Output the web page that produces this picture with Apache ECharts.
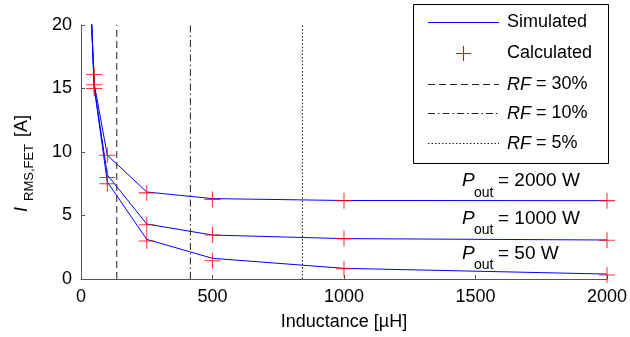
<!DOCTYPE html>
<html>
<head>
<meta charset="utf-8">
<script src="https://cdn.jsdelivr.net/npm/echarts@6/dist/echarts.min.js"></script>
<style>
  html, body { margin: 0; padding: 0; background: #ffffff; }
  #chart { width: 630px; height: 337px; }
</style>
</head>
<body>
<div id="chart"></div>
<script>
// Inductance values (µH)
const inductanceSim = [40, 50, 100, 250, 500, 1000, 2000];
const inductanceCalc = [50, 100, 250, 500, 1000, 2000];

// Simulated RMS FET current (A) per output power
const sim2000W = [20.6, 15.4, 9.75, 6.85, 6.33, 6.18, 6.17];
const sim1000W = [20.4, 15.2, 8.2, 4.33, 3.46, 3.18, 3.07];
const sim50W   = [20.2, 15.1, 7.65, 3.12, 1.63, 0.84, 0.39];

// Calculated RMS FET current (A) per output power
const calc2000W = [16.1, 9.75, 6.78, 6.27, 6.17, 6.17];
const calc1000W = [15.3, 8.0, 4.27, 3.46, 3.18, 3.05];
const calc50W   = [15.0, 7.5, 3.0, 1.44, 0.8, 0.31];

// Ripple factor boundaries
const rfLabels = ['30%', '10%', '5%'];
const rfInductance = [136, 416, 842];

const powerLabels = ['2000 W', '1000 W', '50 W'];

const FONT = '"Liberation Sans", Arial, Helvetica, sans-serif';
const Y_MAX = 20;

const zip = (xs, ys) => xs.map((x, i) => [x, ys[i]]);

// plus-shaped marker built from two thin bars
const PLUS = 'path://M-0.065,-1 L0.065,-1 L0.065,1 L-0.065,1 Z M-1,-0.065 L1,-0.065 L1,0.065 L-1,0.065 Z';

const simSets = [sim2000W, sim1000W, sim50W];
const calcSets = [calc2000W, calc1000W, calc50W];
const rfDash = [[7, 4], [7, 3, 1.5, 3], [1.5, 2]];

const series = [];
rfInductance.forEach((l, i) => {
  series.push({
    name: 'RF = ' + rfLabels[i],
    type: 'line',
    data: [[l, 0], [l, Y_MAX]],
    showSymbol: false,
    symbol: 'none',
    silent: true,
    z: 1,
    lineStyle: { color: '#222', width: 1, type: rfDash[i] }
  });
});
simSets.forEach((s) => {
  series.push({
    name: 'Simulated',
    type: 'line',
    data: zip(inductanceSim, s),
    symbol: 'none',
    z: 2,
    lineStyle: { color: '#0000ff', width: 1 }
  });
});
calcSets.forEach((s) => {
  series.push({
    name: 'Calculated',
    type: 'scatter',
    data: zip(inductanceCalc, s),
    symbol: PLUS,
    symbolSize: 16,
    z: 3,
    itemStyle: { color: '#ff0000' }
  });
});

// Plus outline as a polygon, centred on (cx, cy)
function plusPoints(cx, cy, r, t) {
  return [
    [cx - t, cy - r], [cx + t, cy - r], [cx + t, cy - t], [cx + r, cy - t],
    [cx + r, cy + t], [cx + t, cy + t], [cx + t, cy + r], [cx - t, cy + r],
    [cx - t, cy + t], [cx - r, cy + t], [cx - r, cy - t], [cx - t, cy - t]
  ];
}

// Legend box drawn as graphic elements
const legendX = 413.5, legendY = 4.5, legendW = 195, legendH = 159;
const rowY = [22.5, 53.5, 84.5, 113.5, 143.5];
const sampleX1 = 428, sampleX2 = 499, textX = 507;
const legendChildren = [
  { type: 'rect', shape: { x: legendX, y: legendY, width: legendW, height: legendH },
    style: { fill: '#fff', stroke: '#000', lineWidth: 1 } },
  { type: 'line', shape: { x1: sampleX1, y1: rowY[0], x2: sampleX2, y2: rowY[0] },
    style: { stroke: '#0000ff', lineWidth: 1 } },
  { type: 'text', x: textX, y: rowY[0], style: { text: 'Simulated', font: '18px ' + FONT, fill: '#000', verticalAlign: 'middle' } },
  { type: 'polygon', z: 10, shape: { points: plusPoints(463.5, rowY[1], 7.5, 0.55) },
    style: { fill: '#ff0000', stroke: null } },
  { type: 'text', x: textX, y: rowY[1], style: { text: 'Calculated', font: '18px ' + FONT, fill: '#000', verticalAlign: 'middle' } }
];
rfLabels.forEach((lab, i) => {
  const y = rowY[2 + i];
  legendChildren.push({ type: 'line', shape: { x1: sampleX1, y1: y, x2: sampleX2, y2: y },
    style: { stroke: '#222', lineWidth: 1, lineDash: rfDash[i] } });
  legendChildren.push({ type: 'text', x: textX, y: y, style: {
    text: '{i|RF}{n| = ' + lab + '}', verticalAlign: 'middle', fill: '#000',
    rich: { i: { fontFamily: FONT, fontSize: 18, fontStyle: 'italic', fill: '#000' },
            n: { fontFamily: FONT, fontSize: 18, fill: '#000' } } } });
});

// P_out annotations
const poutY = [181, 218.5, 253.5];
const poutChildren = [];
powerLabels.forEach((p, i) => {
  const y = poutY[i];
  poutChildren.push({ type: 'text', x: 462, y: y, style: { text: 'P', font: 'italic 19px ' + FONT, fill: '#000', verticalAlign: 'middle' } });
  poutChildren.push({ type: 'text', x: 474, y: y + 12, style: { text: 'out', font: '14px ' + FONT, fill: '#000', verticalAlign: 'middle' } });
  poutChildren.push({ type: 'text', x: 498, y: y, style: { text: '= ' + p, font: '19px ' + FONT, fill: '#000', verticalAlign: 'middle' } });
});

// Rotated y-axis title: I_RMS,FET [A]
const yTitle = {
  type: 'group', x: 22, y: 212, rotation: Math.PI / 2,
  children: [
    { type: 'text', x: 0, y: 0, style: { text: 'I', font: 'italic 18px ' + FONT, fill: '#000', verticalAlign: 'middle' } },
    { type: 'text', x: 11, y: 7, style: { text: 'RMS,FET', font: '13px ' + FONT, fill: '#000', verticalAlign: 'middle' } },
    { type: 'text', x: 70, y: 0, style: { text: ' [A]', font: '18px ' + FONT, fill: '#000', verticalAlign: 'middle' } }
  ]
};

const chart = echarts.init(document.getElementById('chart'), null, { renderer: 'canvas' });
chart.setOption({
  animation: false,
  backgroundColor: '#ffffff',
  textStyle: { fontFamily: FONT },
  grid: { left: 81, right: 22, top: 25, bottom: 58, containLabel: false },
  xAxis: {
    type: 'value', min: 0, max: 2000, interval: 500,
    name: 'Inductance [µH]', nameLocation: 'middle', nameGap: 34,
    nameTextStyle: { fontSize: 18, color: '#000', fontFamily: FONT },
    axisLine: { lineStyle: { color: '#555', width: 1 } },
    axisTick: { inside: true, length: 4, lineStyle: { color: '#555' } },
    axisLabel: { fontSize: 18, color: '#000', margin: 9, fontFamily: FONT, formatter: (v) => String(v) },
    splitLine: { show: false }
  },
  yAxis: {
    type: 'value', min: 0, max: Y_MAX, interval: 5,
    axisLine: { show: true, lineStyle: { color: '#555', width: 1 } },
    axisTick: { show: true, inside: true, length: 4, lineStyle: { color: '#555' } },
    axisLabel: { fontSize: 18, color: '#000', margin: 9, fontFamily: FONT },
    splitLine: { show: false }
  },
  series: series,
  graphic: [
    { type: 'group', children: legendChildren, z: 100 },
    { type: 'group', children: poutChildren, z: 100 },
    yTitle
  ]
});
</script>
</body>
</html>
